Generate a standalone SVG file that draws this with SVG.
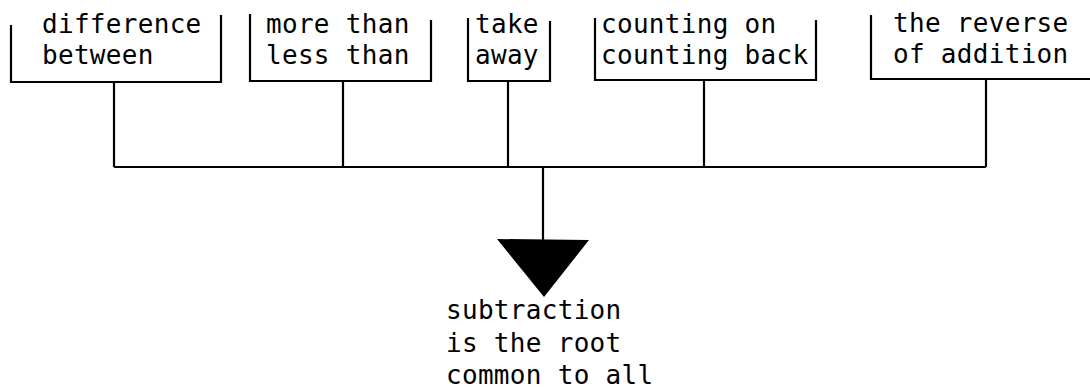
<svg xmlns="http://www.w3.org/2000/svg" width="1090" height="389" viewBox="0 0 1090 389">
<style>
.b{fill:none;stroke:#000;stroke-width:2.2}
.c{fill:none;stroke:#000;stroke-width:2.2}
text{font-family:"DejaVu Sans Mono","Liberation Mono",monospace;font-size:26px;letter-spacing:0.3px;fill:#000}
</style>
<rect width="1090" height="389" fill="#fff"/>
<g id="n1"><path class="b" d="M11,25 V82 H221 V15"/><text x="42" y="33">difference</text><text x="42" y="64">between</text></g>
<g id="n2"><path class="b" d="M250,14 V81 H431 V20"/><text x="266" y="33">more than</text><text x="266" y="64">less than</text></g>
<g id="n3"><path class="b" d="M468,18 V81 H550 V21"/><text x="475" y="33">take</text><text x="475" y="64">away</text></g>
<g id="n4"><path class="b" d="M595,18 V80 H816 V20"/><text x="601" y="33">counting on</text><text x="601" y="64">counting back</text></g>
<g id="n5"><path class="b" d="M871,15 V79 H1090"/><text x="893" y="32">the reverse</text><text x="893" y="63">of addition</text></g>
<g id="connectors">
<path class="c" d="M114,82 V167 M343,81 V167 M508,81 V167 M704,80 V167 M986,79 V167 M114,167 H986 M543,167 V241"/>
<polygon points="497,239 589,240 544,297" fill="#000"/>
</g>
<g id="root"><text x="446" y="319">subtraction</text><text x="446" y="352">is the root</text><text x="446" y="384">common to all</text></g>
</svg>
